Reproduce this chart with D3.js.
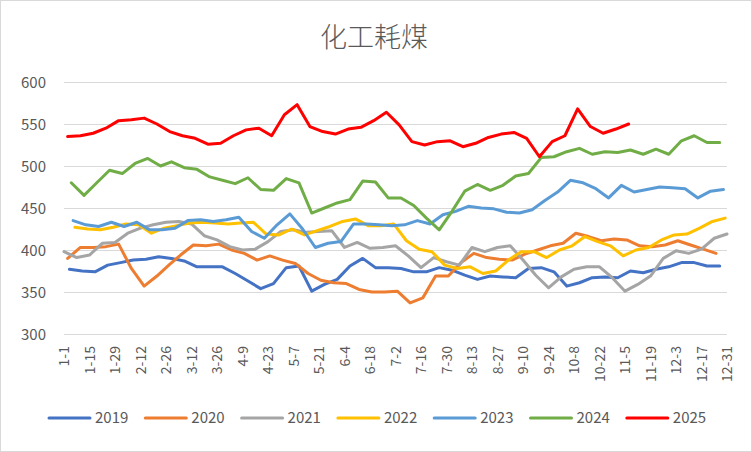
<!DOCTYPE html>
<html>
<head>
<meta charset="utf-8">
<script src="https://cdn.jsdelivr.net/npm/d3@7"></script>
<style>
    body { margin: 0; background: #fff; }
    text { font-family: "Noto Sans CJK SC", "Noto Sans", sans-serif; fill: #595959; }
</style>
</head>
<body>
<div id="chart"></div>
<script>
// Weekly values (Fridays), one array per year
const years = ["2019", "2020", "2021", "2022", "2023", "2024", "2025"];
const firstFriday = ["2019-01-04", "2020-01-03", "2021-01-01", "2022-01-07", "2023-01-06", "2024-01-05", "2025-01-03"];
const colors = ["#4472C4", "#ED7D31", "#A5A5A5", "#FFC000", "#5B9BD5", "#70AD47", "#FF0000"];

const v2019 = [377,375,374,382,385,388,389,392,390,387,380,380,380,372,363,354,360,379,381,351,
    359,365,381,390,379,379,378,374,374,379,376,370,365,369,368,367,378,379,374,357,
    361,367,368,367,375,373,377,380,385,385,381,381];
const v2020 = [390,403,403,404,407,378,357,369,383,394,406,405,407,400,396,388,393,388,384,372,
    364,361,360,353,350,350,351,337,343,369,369,385,396,391,389,388,395,400,405,408,
    420,416,411,413,412,405,404,406,411,406,401,396];
const v2021 = [398,391,394,408,409,420,426,430,433,434,431,417,412,404,400,401,410,422,424,421,
    422,423,403,409,402,403,405,393,379,391,386,382,403,398,403,405,388,370,355,368,
    377,380,380,367,351,359,369,390,399,396,401,414,419];
const v2022 = [427,425,424,427,431,430,420,426,429,432,433,432,431,432,433,419,418,425,418,423,
    428,434,437,429,429,431,411,401,398,382,378,380,372,375,388,398,398,391,400,405,
    416,410,405,393,400,403,412,418,419,426,434,438];
const v2023 = [435,430,428,433,428,433,424,424,426,435,436,434,436,439,422,414,430,443,425,403,
    408,410,431,431,430,429,430,435,431,442,446,452,450,449,445,444,448,459,469,483,
    480,473,462,477,469,472,475,474,473,462,470,472];
const v2024 = [480,465,480,495,491,503,509,500,505,498,496,487,483,479,486,472,471,485,480,444,
    450,456,460,482,481,462,462,453,438,424,446,470,478,471,477,488,491,510,511,517,
    521,514,517,516,519,514,520,514,530,536,528,528];
const v2025 = [535,536,539,545,554,555,557,550,541,536,533,526,527,536,543,545,536,561,573,547,
    541,538,544,546,554,564,549,529,525,529,530,523,527,534,538,540,533,511,529,536,
    568,547,539,544,550];
const values = [v2019, v2020, v2021, v2022, v2023, v2024, v2025];

const xTickLabels = ["1-1","1-15","1-29","2-12","2-26","3-12","3-26","4-9","4-23","5-7","5-21","6-4","6-18",
    "7-2","7-16","7-30","8-13","8-27","9-10","9-24","10-8","10-22","11-5","11-19","12-3","12-17","12-31"];
const yTicks = [300, 350, 400, 450, 500, 550, 600];

const W = 752, H = 452;
const plot = { left: 64, right: 727, top: 82, bottom: 334 };

const svg = d3.select("#chart").append("svg")
    .attr("width", W)
    .attr("height", H);

svg.append("rect")
    .attr("x", 0.5).attr("y", 0.5)
    .attr("width", W - 1).attr("height", H - 1)
    .attr("fill", "#fff")
    .attr("stroke", "#d9d9d9");

// all years are placed on one common (non-leap) year by month-day
const BASE = 2021;
const parseDay = d3.timeParse("%Y-%m-%d");
const toBase = d => new Date(BASE, d.getMonth(), d.getDate());

const x = d3.scaleTime()
    .domain([new Date(BASE, 0, 1), new Date(BASE, 11, 31)])
    .range([plot.left, plot.right]);

const y = d3.scaleLinear()
    .domain([300, 600])
    .range([plot.bottom, plot.top]);

// gridlines
svg.append("g")
    .selectAll("line")
    .data(yTicks)
    .join("line")
    .attr("x1", plot.left)
    .attr("x2", plot.right)
    .attr("y1", d => Math.round(y(d)) + 0.5)
    .attr("y2", d => Math.round(y(d)) + 0.5)
    .attr("stroke", "#d9d9d9")
    .attr("stroke-width", 1);

// y axis
const yAxis = svg.append("g")
    .attr("transform", `translate(${plot.left - 18},0)`)
    .call(d3.axisLeft(y).tickValues(yTicks).tickSize(0).tickPadding(0));
yAxis.select(".domain").remove();
yAxis.selectAll("text")
    .style("font-size", "15px")
    .attr("dy", "0.35em");

// x axis
const xTickDates = xTickLabels.map(s => parseDay(`${BASE}-${s}`));
const xAxis = svg.append("g")
    .attr("transform", `translate(0,${plot.bottom})`)
    .call(d3.axisBottom(x).tickValues(xTickDates).tickSize(0).tickFormat((d, i) => xTickLabels[i]));
xAxis.select(".domain").remove();
xAxis.selectAll("text")
    .style("font-size", "14px")
    .attr("text-anchor", "end")
    .attr("transform", "rotate(-90)")
    .attr("x", -12)
    .attr("y", 0)
    .attr("dy", "0.35em");

// title
svg.append("text")
    .attr("x", W / 2 - 2)
    .attr("y", 47)
    .attr("text-anchor", "middle")
    .style("font-size", "27px")
    .style("font-weight", 300)
    .text("化工耗煤");

// lines
const line = d3.line()
    .x(d => x(d.date))
    .y(d => y(d.value));

years.forEach((yr, k) => {
    const start = parseDay(firstFriday[k]);
    const pts = values[k].map((v, i) => ({ date: toBase(d3.timeDay.offset(start, 7 * i)), value: v }));
    svg.append("path")
        .datum(pts)
        .attr("fill", "none")
        .attr("stroke", colors[k])
        .attr("stroke-width", 3)
        .attr("stroke-linejoin", "round")
        .attr("stroke-linecap", "round")
        .attr("d", line);
});

// legend
const legend = svg.append("g").attr("transform", "translate(49,418)");
const item = legend.selectAll("g")
    .data(years)
    .join("g")
    .attr("transform", (d, i) => `translate(${i * 96.3},0)`);
item.append("line")
    .attr("x1", 0).attr("x2", 41)
    .attr("stroke", (d, i) => colors[i])
    .attr("stroke-width", 3)
    .attr("stroke-linecap", "round");
item.append("text")
    .attr("x", 46)
    .attr("dy", "0.35em")
    .style("font-size", "15px")
    .text(d => d);
</script>
</body>
</html>
